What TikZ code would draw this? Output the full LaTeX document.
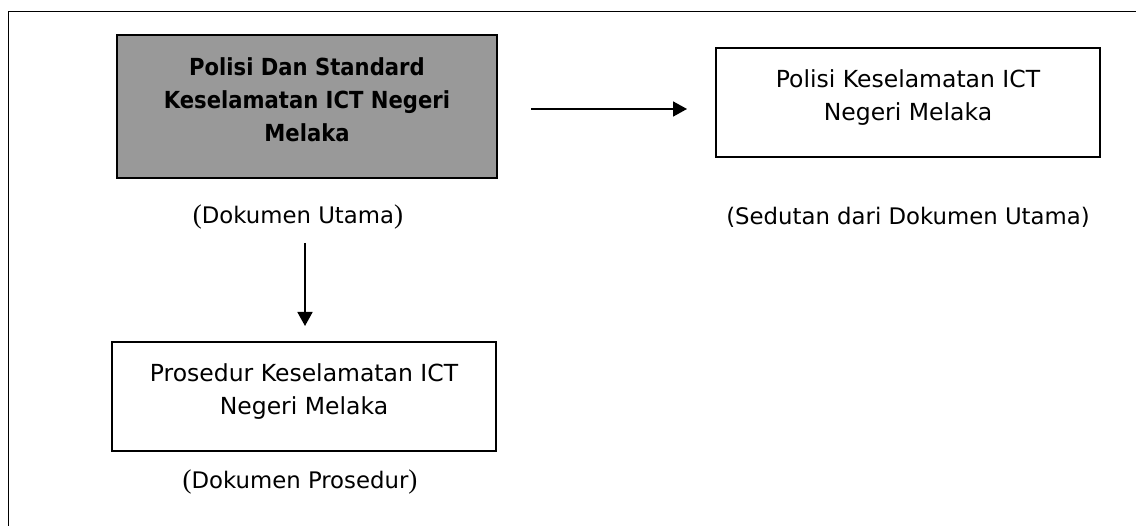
\documentclass[tikz,border=0pt]{standalone}
\usepackage{fontspec}
\setmainfont{DejaVu Sans}
\newfontfamily\condfont{DejaVu Sans Condensed}
\newfontfamily\parenfont{Liberation Serif}
\newcommand{\lpar}{{\parenfont\fontsize{27}{33}\selectfont(}}
\newcommand{\rpar}{{\parenfont\fontsize{27}{33}\selectfont)}}
\usetikzlibrary{arrows.meta}
\definecolor{boxgray}{RGB}{153,153,153}
\tikzset{
  framebox/.style={draw=black, line width=1.7pt},
  docbox/.style={draw=black, line width=2pt, rectangle, inner sep=0pt},
  txt/.style={align=center, font=\fontsize{23.5}{33}\selectfont, inner sep=0pt},
  captxt/.style={align=center, font=\fontsize{22.8}{33}\selectfont, inner sep=0pt},
  boldtxt/.style={align=center, font=\condfont\fontsize{23.5}{33}\selectfont\bfseries, inner sep=0pt},
  arr/.style={line width=1.7pt, -{Triangle[length=14pt,width=15pt]}}
}
\begin{document}
\begin{tikzpicture}[x=1pt,y=-1pt]
\useasboundingbox (0,0) rectangle (1136,526);
% outer frame (right and bottom edges lie outside the picture)
\draw[framebox] (8.5,540) -- (8.5,11.5) -- (1150,11.5);
% boxes
\node[docbox, fill=boxgray, minimum width=380pt, minimum height=143pt] (main) at (307,106.5) {};
\node[boldtxt] (maintxt) at (307,100) {Polisi Dan Standard\\Keselamatan ICT Negeri\\Melaka};
\node[docbox, minimum width=384pt, minimum height=109pt] (polisi) at (908,102.5) {};
\node[txt] (polisitxt) at (908,98) {Polisi Keselamatan ICT\\Negeri Melaka};
\node[docbox, minimum width=384pt, minimum height=109pt] (prosedur) at (304,396.5) {};
\node[txt] (prosedurtxt) at (304,392) {Prosedur Keselamatan ICT\\Negeri Melaka};
% captions
\node[captxt] (capmain) at (298,217) {\lpar Dokumen Utama\rpar};
\node[captxt] (cappolisi) at (908,217) {(Sedutan dari Dokumen Utama)};
\node[captxt] (capprosedur) at (300,482) {\lpar Dokumen Prosedur\rpar};
% connectors
\coordinate (h1) at (531,109);
\coordinate (h2) at (687,109);
\coordinate (v1) at (305,243);
\coordinate (v2) at (305,326);
\draw[arr] (h1) -- (h2);
\draw[arr] (v1) -- (v2);
\end{tikzpicture}
\end{document}
